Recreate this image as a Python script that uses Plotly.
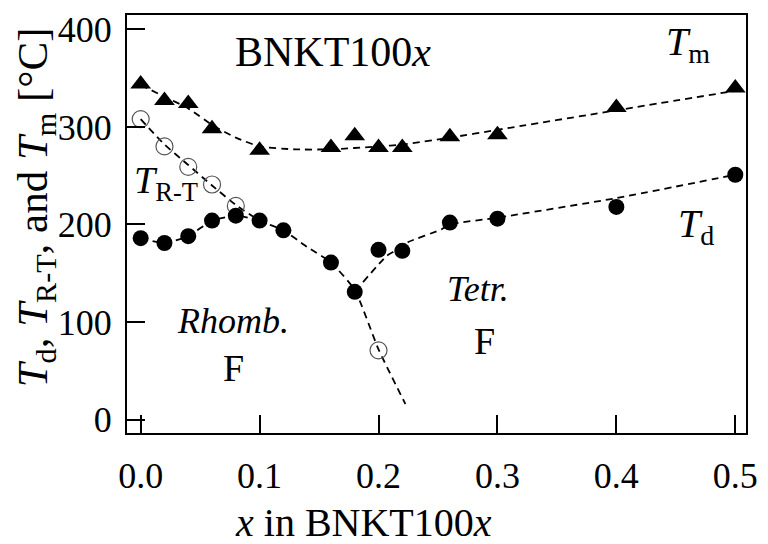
import plotly.graph_objects as go

# ---- data ----
td_x = [0.00, 0.02, 0.04, 0.06, 0.08, 0.10, 0.12, 0.16, 0.18, 0.20, 0.22, 0.26, 0.30, 0.40, 0.50]
td_y = [186, 181, 188, 204, 209, 204, 194, 161, 131, 174, 173, 202, 206, 218, 251]

tm_x = [0.00, 0.02, 0.04, 0.06, 0.10, 0.16, 0.18, 0.20, 0.22, 0.26, 0.30, 0.40, 0.50]
tm_y = [344, 327, 324, 298, 276, 279, 291, 279, 279, 290, 292, 320, 340]

trt_x = [0.00, 0.02, 0.04, 0.06, 0.08, 0.20]
trt_y = [308, 280, 259, 241, 219, 71]

# dashed guide curves
g_tm_x = [0.00, 0.02, 0.04, 0.06, 0.08, 0.10, 0.13, 0.16, 0.20, 0.22, 0.26, 0.30, 0.40, 0.50]
g_tm_y = [343, 331, 319, 302, 289, 280, 277, 277, 280, 282, 289, 297, 317, 337]

g_rt_x = [0.00, 0.02, 0.04, 0.06, 0.08, 0.10, 0.12, 0.14, 0.16, 0.18, 0.20, 0.2226]
g_rt_y = [308, 282, 261, 240, 220, 204, 194, 177, 161, 133, 72, 16]

g_rh_x = [0.00, 0.02, 0.04, 0.06, 0.08, 0.09]
g_rh_y = [186, 181, 188, 204, 209, 207]

g_te_x = [0.187, 0.207, 0.214, 0.225, 0.253, 0.26, 0.30, 0.40, 0.50]
g_te_y = [141, 168, 173, 182, 195, 200, 207, 227, 251]

x_ticks = [0.0, 0.1, 0.2, 0.3, 0.4, 0.5]
x_tick_text = ["0.0", "0.1", "0.2", "0.3", "0.4", "0.5"]
y_ticks = [0, 100, 200, 300, 400]
y_tick_text = ["0", "100", "200", "300", "400"]

FONT = "Liberation Serif"
dash = "7px,5px"

fig = go.Figure()
for gx, gy in [(g_tm_x, g_tm_y), (g_rt_x, g_rt_y), (g_rh_x, g_rh_y), (g_te_x, g_te_y)]:
    fig.add_trace(go.Scatter(x=gx, y=gy, mode="lines",
                             line=dict(color="black", width=1.8, dash=dash, shape="spline", smoothing=0.5),
                             hoverinfo="skip", showlegend=False))

fig.add_trace(go.Scatter(x=trt_x, y=trt_y, mode="markers",
                         marker=dict(symbol="circle-open", size=17, color="#555555", line=dict(width=1.2)),
                         showlegend=False))
fig.add_trace(go.Scatter(x=td_x, y=td_y, mode="markers",
                         marker=dict(symbol="circle", size=16, color="black"),
                         showlegend=False))
fig.add_trace(go.Scatter(x=tm_x, y=tm_y, mode="markers",
                         marker=dict(symbol="triangle-up", size=18, color="black"),
                         showlegend=False))

def ann(x, y, text, size=36, xref="x", yref="y", angle=0):
    fig.add_annotation(x=x, y=y, xref=xref, yref=yref, text=text, showarrow=False,
                       font=dict(family=FONT, size=size, color="black"),
                       xanchor="center", yanchor="middle", textangle=angle)

ann(0.162, 377, "BNKT100<i>x</i>", 42)
ann(0.460, 385, "<i>T</i><sub>m</sub>", 40)
ann(0.467, 198, "<i>T</i><sub>d</sub>", 40)
ann(0.0217, 243, "<i>T</i><sub>R-T</sub>", 38)
ann(0.078, 101, "<i>Rhomb.</i>", 36)
ann(0.078, 53, "F", 38)
ann(0.284, 134, "<i>Tetr.</i>", 36)
ann(0.289, 81, "F", 38)

# axis titles (pixel -> paper)
def px2paper(px, py):
    return (px - 127) / 630.0, (433 - py) / 423.0

tx, ty = px2paper(368, 524)
ann(tx, ty, "<i>x</i> in BNKT100<i>x</i>", 40, "paper", "paper")
yx, yy = px2paper(34, 205)
ann(yx, yy, "<i>T</i><sub>d</sub>, <i>T</i><sub>R-T</sub>, and <i>T</i><sub>m</sub> [°C]", 43, "paper", "paper", -90)

axis_common = dict(showline=True, linecolor="black", linewidth=2, mirror=True,
                   ticks="inside", ticklen=18, tickwidth=2, tickcolor="black",
                   showgrid=False, zeroline=False,
                   tickfont=dict(family=FONT, size=36, color="black"))

fig.update_xaxes(range=[-0.0115, 0.509], tickvals=x_ticks, ticktext=x_tick_text,
                 ticklabelstandoff=10, **axis_common)
fig.update_yaxes(range=[-13.7, 414.7], tickvals=y_ticks, ticktext=y_tick_text,
                 ticklabelstandoff=6, **axis_common)

fig.update_layout(width=768, height=544, margin=dict(l=127, r=11, t=10, b=111),
                  plot_bgcolor="white", paper_bgcolor="white", showlegend=False,
                  font=dict(family=FONT))

fig.write_html("out.html")
